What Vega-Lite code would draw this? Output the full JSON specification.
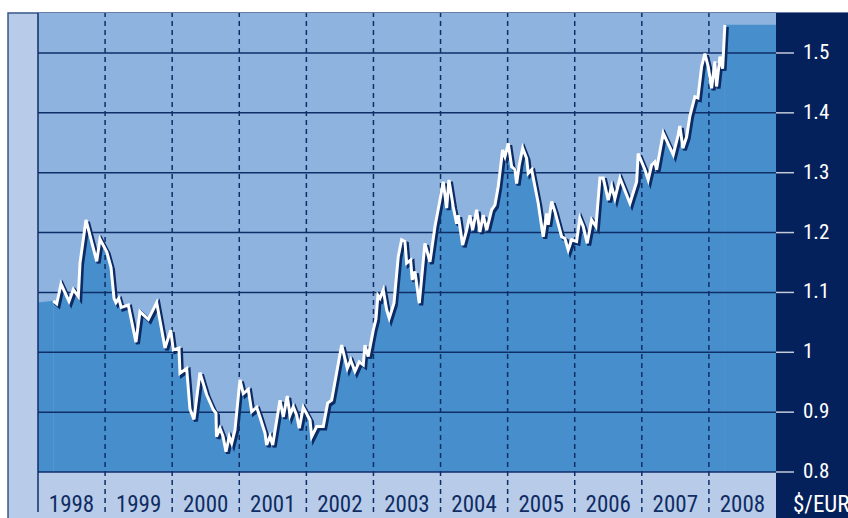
{
  "$schema": "https://vega.github.io/schema/vega-lite/v6.json",
  "width": 738,
  "height": 459,
  "autosize": {"type": "none"},
  "padding": {"left": 38, "top": 13, "right": 72, "bottom": 46},
  "background": "#ffffff",
  "config": {"view": {"stroke": null}},
  "datasets": {
    "fx": [
      {"t": 1998.228, "v": 1.086}, {"t": 1998.279, "v": 1.081}, {"t": 1998.343, "v": 1.114}, {"t": 1998.462, "v": 1.085},
      {"t": 1998.526, "v": 1.105}, {"t": 1998.601, "v": 1.093}, {"t": 1998.626, "v": 1.149}, {"t": 1998.715, "v": 1.221},
      {"t": 1998.875, "v": 1.152}, {"t": 1998.924, "v": 1.189}, {"t": 1999.024, "v": 1.168}, {"t": 1999.088, "v": 1.142},
      {"t": 1999.133, "v": 1.090}, {"t": 1999.162, "v": 1.083}, {"t": 1999.203, "v": 1.090}, {"t": 1999.241, "v": 1.075},
      {"t": 1999.301, "v": 1.077}, {"t": 1999.346, "v": 1.079}, {"t": 1999.460, "v": 1.017}, {"t": 1999.520, "v": 1.068},
      {"t": 1999.644, "v": 1.055}, {"t": 1999.769, "v": 1.083}, {"t": 1999.893, "v": 1.007}, {"t": 1999.978, "v": 1.037},
      {"t": 2000.016, "v": 1.004}, {"t": 2000.101, "v": 1.007}, {"t": 2000.116, "v": 0.965}, {"t": 2000.216, "v": 0.973},
      {"t": 2000.265, "v": 0.905}, {"t": 2000.325, "v": 0.888}, {"t": 2000.414, "v": 0.966}, {"t": 2000.514, "v": 0.929},
      {"t": 2000.613, "v": 0.904}, {"t": 2000.653, "v": 0.898}, {"t": 2000.660, "v": 0.859}, {"t": 2000.712, "v": 0.873},
      {"t": 2000.757, "v": 0.860}, {"t": 2000.802, "v": 0.834}, {"t": 2000.851, "v": 0.859}, {"t": 2000.887, "v": 0.848},
      {"t": 2000.936, "v": 0.870}, {"t": 2001.010, "v": 0.954}, {"t": 2001.060, "v": 0.931}, {"t": 2001.134, "v": 0.938},
      {"t": 2001.185, "v": 0.901}, {"t": 2001.259, "v": 0.908}, {"t": 2001.308, "v": 0.892}, {"t": 2001.383, "v": 0.865},
      {"t": 2001.408, "v": 0.845}, {"t": 2001.458, "v": 0.860}, {"t": 2001.498, "v": 0.845}, {"t": 2001.607, "v": 0.920},
      {"t": 2001.656, "v": 0.892}, {"t": 2001.715, "v": 0.927}, {"t": 2001.756, "v": 0.895}, {"t": 2001.805, "v": 0.909},
      {"t": 2001.855, "v": 0.895}, {"t": 2001.894, "v": 0.873}, {"t": 2001.954, "v": 0.908}, {"t": 2002.054, "v": 0.887},
      {"t": 2002.079, "v": 0.859}, {"t": 2002.153, "v": 0.876}, {"t": 2002.252, "v": 0.876}, {"t": 2002.317, "v": 0.915},
      {"t": 2002.377, "v": 0.920}, {"t": 2002.526, "v": 1.012}, {"t": 2002.610, "v": 0.973}, {"t": 2002.660, "v": 0.987},
      {"t": 2002.724, "v": 0.968}, {"t": 2002.788, "v": 0.984}, {"t": 2002.848, "v": 0.979}, {"t": 2002.873, "v": 1.012},
      {"t": 2002.922, "v": 0.993}, {"t": 2002.997, "v": 1.037}, {"t": 2003.037, "v": 1.055}, {"t": 2003.067, "v": 1.095},
      {"t": 2003.097, "v": 1.090}, {"t": 2003.146, "v": 1.104}, {"t": 2003.197, "v": 1.071}, {"t": 2003.235, "v": 1.057},
      {"t": 2003.306, "v": 1.082}, {"t": 2003.370, "v": 1.160}, {"t": 2003.420, "v": 1.188}, {"t": 2003.469, "v": 1.185},
      {"t": 2003.495, "v": 1.149}, {"t": 2003.554, "v": 1.154}, {"t": 2003.578, "v": 1.121}, {"t": 2003.618, "v": 1.135},
      {"t": 2003.683, "v": 1.082}, {"t": 2003.767, "v": 1.182}, {"t": 2003.842, "v": 1.151}, {"t": 2003.917, "v": 1.210},
      {"t": 2003.991, "v": 1.254}, {"t": 2004.040, "v": 1.285}, {"t": 2004.091, "v": 1.241}, {"t": 2004.125, "v": 1.288},
      {"t": 2004.189, "v": 1.243}, {"t": 2004.240, "v": 1.215}, {"t": 2004.264, "v": 1.229}, {"t": 2004.329, "v": 1.179},
      {"t": 2004.389, "v": 1.204}, {"t": 2004.438, "v": 1.229}, {"t": 2004.478, "v": 1.204}, {"t": 2004.538, "v": 1.238},
      {"t": 2004.587, "v": 1.201}, {"t": 2004.636, "v": 1.229}, {"t": 2004.687, "v": 1.204}, {"t": 2004.761, "v": 1.238},
      {"t": 2004.811, "v": 1.246}, {"t": 2004.860, "v": 1.277}, {"t": 2004.925, "v": 1.338}, {"t": 2004.960, "v": 1.327},
      {"t": 2005.009, "v": 1.349}, {"t": 2005.060, "v": 1.310}, {"t": 2005.109, "v": 1.305}, {"t": 2005.134, "v": 1.282},
      {"t": 2005.173, "v": 1.313}, {"t": 2005.224, "v": 1.341}, {"t": 2005.283, "v": 1.324}, {"t": 2005.307, "v": 1.299},
      {"t": 2005.358, "v": 1.305}, {"t": 2005.456, "v": 1.249}, {"t": 2005.507, "v": 1.210}, {"t": 2005.531, "v": 1.193},
      {"t": 2005.581, "v": 1.232}, {"t": 2005.605, "v": 1.213}, {"t": 2005.656, "v": 1.252}, {"t": 2005.705, "v": 1.235},
      {"t": 2005.805, "v": 1.193}, {"t": 2005.854, "v": 1.190}, {"t": 2005.903, "v": 1.171}, {"t": 2005.954, "v": 1.188},
      {"t": 2006.028, "v": 1.185}, {"t": 2006.077, "v": 1.224}, {"t": 2006.127, "v": 1.210}, {"t": 2006.186, "v": 1.182},
      {"t": 2006.252, "v": 1.221}, {"t": 2006.316, "v": 1.210}, {"t": 2006.376, "v": 1.291}, {"t": 2006.425, "v": 1.291},
      {"t": 2006.499, "v": 1.254}, {"t": 2006.550, "v": 1.277}, {"t": 2006.599, "v": 1.257}, {"t": 2006.674, "v": 1.291},
      {"t": 2006.823, "v": 1.249}, {"t": 2006.923, "v": 1.285}, {"t": 2006.946, "v": 1.332}, {"t": 2007.046, "v": 1.305},
      {"t": 2007.095, "v": 1.288}, {"t": 2007.146, "v": 1.313}, {"t": 2007.195, "v": 1.318}, {"t": 2007.220, "v": 1.305},
      {"t": 2007.319, "v": 1.366}, {"t": 2007.468, "v": 1.330}, {"t": 2007.542, "v": 1.363}, {"t": 2007.567, "v": 1.378},
      {"t": 2007.612, "v": 1.341}, {"t": 2007.668, "v": 1.360}, {"t": 2007.717, "v": 1.395}, {"t": 2007.791, "v": 1.427},
      {"t": 2007.836, "v": 1.425}, {"t": 2007.891, "v": 1.477}, {"t": 2007.940, "v": 1.499}, {"t": 2007.990, "v": 1.477},
      {"t": 2008.040, "v": 1.441}, {"t": 2008.089, "v": 1.486}, {"t": 2008.114, "v": 1.444}, {"t": 2008.164, "v": 1.494},
      {"t": 2008.204, "v": 1.474}, {"t": 2008.238, "v": 1.547}
    ],
    "edges": [
      {"side": "start", "t": 1998.0, "v": 1.083}, {"side": "start", "t": 1998.228, "v": 1.086},
      {"side": "end", "t": 2008.238, "v": 1.547}, {"side": "end", "t": 2009.0, "v": 1.547}
    ],
    "hgrid": [{"g": 0.8}, {"g": 0.9}, {"g": 1.0}, {"g": 1.1}, {"g": 1.2}, {"g": 1.3}, {"g": 1.4}, {"g": 1.5}],
    "vgrid": [{"yr": 1999}, {"yr": 2000}, {"yr": 2001}, {"yr": 2002}, {"yr": 2003}, {"yr": 2004}, {"yr": 2005}, {"yr": 2006}, {"yr": 2007}, {"yr": 2008}],
    "years": [{"yr": 1998}, {"yr": 1999}, {"yr": 2000}, {"yr": 2001}, {"yr": 2002}, {"yr": 2003}, {"yr": 2004}, {"yr": 2005}, {"yr": 2006}, {"yr": 2007}, {"yr": 2008}]
  },
  "layer": [
    {
      "data": {"values": [{}]},
      "mark": {"type": "rect", "fill": "#b8cce9", "stroke": "#36558a", "strokeWidth": 1.5},
      "encoding": {
        "x": {"datum": 1997.553, "type": "quantitative", "scale": {"domain": [1998, 2009], "nice": false, "zero": false}, "axis": null},
        "x2": {"datum": 2010.3},
        "y": {"datum": 0.7, "type": "quantitative", "scale": {"domain": [0.8, 1.5668], "nice": false, "zero": false}, "axis": null},
        "y2": {"datum": 1.5668}
      }
    },
    {
      "data": {"values": [{}]},
      "mark": {"type": "rect", "fill": "#8eb3de"},
      "encoding": {
        "x": {"datum": 1998, "type": "quantitative", "scale": {"domain": [1998, 2009], "nice": false, "zero": false}, "axis": null},
        "x2": {"datum": 2009},
        "y": {"datum": 0.8, "type": "quantitative", "scale": {"domain": [0.8, 1.5668], "nice": false, "zero": false}, "axis": null},
        "y2": {"datum": 1.5668}
      }
    },
    {
      "data": {"values": [{}]},
      "mark": {"type": "rect", "fill": "#05215b"},
      "encoding": {
        "x": {"datum": 2009, "type": "quantitative", "scale": {"domain": [1998, 2009], "nice": false, "zero": false}, "axis": null},
        "x2": {"datum": 2010.3},
        "y": {"datum": 0.7, "type": "quantitative", "scale": {"domain": [0.8, 1.5668], "nice": false, "zero": false}, "axis": null},
        "y2": {"datum": 1.5668}
      }
    },
    {
      "data": {"name": "fx"},
      "mark": {"type": "area", "fill": "#468fcc"},
      "encoding": {
        "x": {"field": "t", "type": "quantitative", "scale": {"domain": [1998, 2009], "nice": false, "zero": false}, "axis": null},
        "y": {"field": "v", "type": "quantitative", "scale": {"domain": [0.8, 1.5668], "nice": false, "zero": false}, "axis": null},
        "y2": {"datum": 0.8}
      }
    },
    {
      "data": {"name": "edges"},
      "mark": {"type": "area", "fill": "#468fcc"},
      "encoding": {
        "x": {"field": "t", "type": "quantitative", "scale": {"domain": [1998, 2009], "nice": false, "zero": false}, "axis": null},
        "y": {"field": "v", "type": "quantitative", "scale": {"domain": [0.8, 1.5668], "nice": false, "zero": false}, "axis": null},
        "y2": {"datum": 0.8},
        "detail": {"field": "side"}
      }
    },
    {
      "data": {"name": "hgrid"},
      "mark": {"type": "rule", "color": "#0f2e68", "strokeWidth": 1.5},
      "encoding": {
        "x": {"datum": 1998, "type": "quantitative", "scale": {"domain": [1998, 2009], "nice": false, "zero": false}, "axis": null},
        "x2": {"datum": 2009},
        "y": {"field": "g", "type": "quantitative", "scale": {"domain": [0.8, 1.5668], "nice": false, "zero": false}, "axis": null}
      }
    },
    {
      "data": {"name": "hgrid"},
      "mark": {"type": "rule", "color": "#c3cbdb", "strokeWidth": 1.5},
      "encoding": {
        "x": {"datum": 2009, "type": "quantitative", "scale": {"domain": [1998, 2009], "nice": false, "zero": false}, "axis": null},
        "x2": {"datum": 2009.268},
        "y": {"field": "g", "type": "quantitative", "scale": {"domain": [0.8, 1.5668], "nice": false, "zero": false}, "axis": null}
      }
    },
    {
      "data": {"name": "hgrid"},
      "mark": {"type": "text", "color": "#ffffff", "fontSize": 21, "align": "left", "baseline": "middle", "dx": 27,
               "font": "Liberation Sans Narrow, Arial Narrow, Roboto Condensed, DejaVu Sans Condensed, sans-serif"},
      "encoding": {
        "x": {"datum": 2009, "type": "quantitative", "scale": {"domain": [1998, 2009], "nice": false, "zero": false}, "axis": null},
        "y": {"field": "g", "type": "quantitative", "scale": {"domain": [0.8, 1.5668], "nice": false, "zero": false}, "axis": null},
        "text": {"field": "g", "type": "quantitative", "format": "~g"}
      }
    },
    {
      "data": {"values": [{}]},
      "mark": {"type": "text", "color": "#ffffff", "fontSize": 23, "align": "left", "baseline": "alphabetic", "dx": 17,
               "font": "Liberation Sans Narrow, Arial Narrow, Roboto Condensed, DejaVu Sans Condensed, sans-serif"},
      "encoding": {
        "x": {"datum": 2009, "type": "quantitative", "scale": {"domain": [1998, 2009], "nice": false, "zero": false}, "axis": null},
        "y": {"datum": 0.7332, "type": "quantitative", "scale": {"domain": [0.8, 1.5668], "nice": false, "zero": false}, "axis": null},
        "text": {"value": "$/EUR"}
      }
    },
    {
      "data": {"name": "years"},
      "mark": {"type": "text", "color": "#102c63", "fontSize": 23, "align": "center", "baseline": "alphabetic", "dx": 33.5,
               "font": "Liberation Sans Narrow, Arial Narrow, Roboto Condensed, DejaVu Sans Condensed, sans-serif"},
      "encoding": {
        "x": {"field": "yr", "type": "quantitative", "scale": {"domain": [1998, 2009], "nice": false, "zero": false}, "axis": null},
        "y": {"datum": 0.7332, "type": "quantitative", "scale": {"domain": [0.8, 1.5668], "nice": false, "zero": false}, "axis": null},
        "text": {"field": "yr", "type": "nominal"}
      }
    },
    {
      "data": {"name": "vgrid"},
      "mark": {"type": "rule", "color": "#0f2e68", "strokeWidth": 1.5, "strokeDash": [5, 4]},
      "encoding": {
        "x": {"field": "yr", "type": "quantitative", "scale": {"domain": [1998, 2009], "nice": false, "zero": false}, "axis": null},
        "y": {"datum": 0.733, "type": "quantitative", "scale": {"domain": [0.8, 1.5668], "nice": false, "zero": false}, "axis": null},
        "y2": {"datum": 1.5668}
      }
    },
    {
      "data": {"values": [{}]},
      "mark": {"type": "rule", "color": "#0f2e68", "strokeWidth": 1.5},
      "encoding": {
        "x": {"datum": 1998, "type": "quantitative", "scale": {"domain": [1998, 2009], "nice": false, "zero": false}, "axis": null},
        "y": {"datum": 0.733, "type": "quantitative", "scale": {"domain": [0.8, 1.5668], "nice": false, "zero": false}, "axis": null},
        "y2": {"datum": 1.5668}
      }
    },
    {
      "data": {"name": "fx"},
      "mark": {"type": "line", "color": "#0c2a63", "strokeWidth": 4, "xOffset": 2, "yOffset": 2},
      "encoding": {
        "x": {"field": "t", "type": "quantitative", "scale": {"domain": [1998, 2009], "nice": false, "zero": false}, "axis": null},
        "y": {"field": "v", "type": "quantitative", "scale": {"domain": [0.8, 1.5668], "nice": false, "zero": false}, "axis": null}
      }
    },
    {
      "data": {"name": "fx"},
      "mark": {"type": "line", "color": "#ffffff", "strokeWidth": 3},
      "encoding": {
        "x": {"field": "t", "type": "quantitative", "scale": {"domain": [1998, 2009], "nice": false, "zero": false}, "axis": null},
        "y": {"field": "v", "type": "quantitative", "scale": {"domain": [0.8, 1.5668], "nice": false, "zero": false}, "axis": null}
      }
    }
  ]
}
